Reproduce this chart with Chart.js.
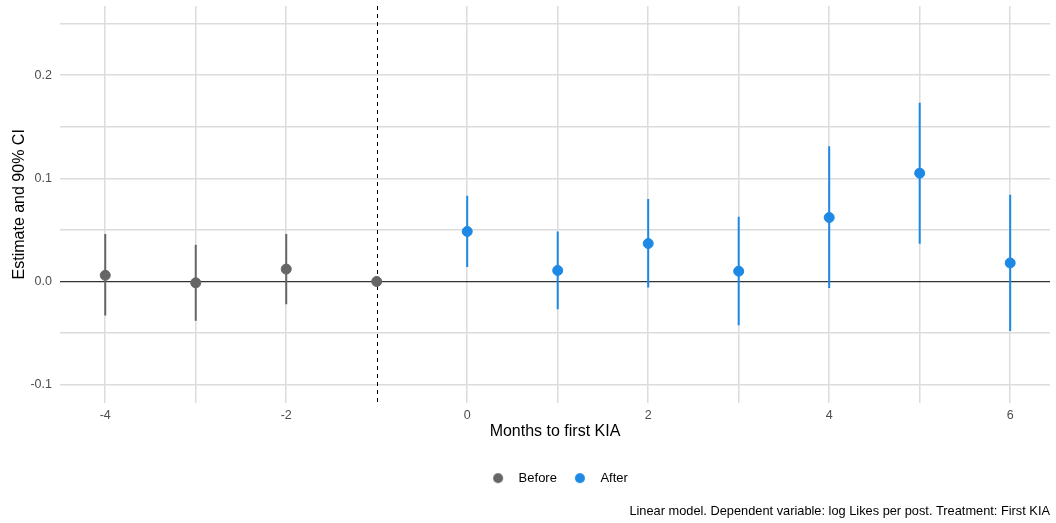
<!DOCTYPE html>
<html><head><meta charset="utf-8">
<script src="https://cdn.jsdelivr.net/npm/chart.js@4.4.1/dist/chart.umd.min.js"></script>
<style>html,body{margin:0;padding:0;background:#fff;}</style>
</head><body>
<canvas id="c" width="1056" height="523"></canvas>
<script>
// ---- data ----
const beforeMonths = [-4, -3, -2, -1];
const beforeEst    = [0.006, -0.0013, 0.012, 0];
const beforeLow    = [-0.033, -0.038, -0.022, null];
const beforeHigh   = [0.046, 0.0356, 0.046, null];

const afterMonths = [0, 1, 2, 3, 4, 5, 6];
const afterEst    = [0.0485, 0.0107, 0.0368, 0.010, 0.062, 0.105, 0.018];
const afterLow    = [0.014, -0.027, -0.0058, -0.0423, -0.0064, 0.0365, -0.048];
const afterHigh   = [0.083, 0.0485, 0.080, 0.0627, 0.131, 0.1732, 0.084];

const xTicks      = [-4, -3, -2, -1, 0, 1, 2, 3, 4, 5, 6];
const xTickLabels = ['-4', '', '-2', '', '0', '', '2', '', '4', '', '6'];
const yTicks      = [-0.1, -0.05, 0, 0.05, 0.1, 0.15, 0.2, 0.25];
const yTickLabels = ['-0.1', '', '0.0', '', '0.1', '', '0.2', ''];
const treatmentLine = -1;
const seriesNames = ['Before', 'After'];
const captionText = 'Linear model. Dependent variable: log Likes per post. Treatment: First KIA';

// ---- styling ----
const GRAY = '#666666';
const BLUE = '#1E88E5';
const GRID = '#dcdcdc';

Chart.defaults.font.family = "'Liberation Sans', Arial, Helvetica, sans-serif";

function pts(xs, ys) { return xs.map((x, i) => ({x: x, y: ys[i]})); }
function ciData(xs, lo, hi) {
  const out = [];
  xs.forEach((x, i) => {
    if (lo[i] == null || hi[i] == null) return;
    out.push({x: x, y: lo[i]}, {x: x, y: hi[i]}, {x: x, y: null});
  });
  return out;
}
function legendDot(color) {
  const c = document.createElement('canvas');
  c.width = 30; c.height = 12;
  const g = c.getContext('2d');
  g.fillStyle = color;
  g.beginPath(); g.arc(16, 6, 5, 0, Math.PI * 2); g.fill();
  return c;
}

const vlinePlugin = {
  id: 'vline',
  beforeDatasetsDraw(chart) {
    const {ctx, chartArea, scales} = chart;
    const x = Math.round(scales.x.getPixelForValue(treatmentLine)) + 0.5;
    ctx.save();
    ctx.strokeStyle = '#000';
    ctx.lineWidth = 1;
    ctx.setLineDash([4, 4]);
    ctx.beginPath();
    ctx.moveTo(x, chartArea.top);
    ctx.lineTo(x, chartArea.bottom);
    ctx.stroke();
    ctx.restore();
  }
};

new Chart(document.getElementById('c'), {
  type: 'scatter',
  data: {
    datasets: [
      {label: seriesNames[0], data: pts(beforeMonths, beforeEst), backgroundColor: GRAY, borderColor: GRAY, pointRadius: 5, borderWidth: 1, pointHoverRadius: 5},
      {label: seriesNames[1], data: pts(afterMonths, afterEst), backgroundColor: BLUE, borderColor: BLUE, pointRadius: 5, borderWidth: 1, pointHoverRadius: 5},
      {label: 'ci-before', data: ciData(beforeMonths, beforeLow, beforeHigh), showLine: true, spanGaps: false, borderColor: GRAY, borderWidth: 2, pointRadius: 0},
      {label: 'ci-after', data: ciData(afterMonths, afterLow, afterHigh), showLine: true, spanGaps: false, borderColor: BLUE, borderWidth: 2, pointRadius: 0}
    ]
  },
  options: {
    responsive: false,
    animation: false,
    devicePixelRatio: 1,
    layout: {padding: {top: 6, right: 6, left: 0, bottom: 0}},
    scales: {
      x: {
        type: 'linear', min: -4.5, max: 6.44,
        afterBuildTicks: s => { s.ticks = xTicks.map(v => ({value: v})); },
        afterFit: s => { s.height = 62; s.paddingLeft = 0; s.paddingRight = 0; },
        ticks: {autoSkip: false, maxRotation: 0, padding: 5, color: '#4d4d4d', font: {size: 12.5},
                callback: (v, i) => xTickLabels[i]},
        grid: {drawTicks: false, lineWidth: 1.5,
               color: c => (c.tick && c.tick.value === treatmentLine) ? 'rgba(0,0,0,0)' : GRID},
        border: {display: false},
        title: {display: true, text: 'Months to first KIA', color: '#000', font: {size: 16}, padding: {top: 4, bottom: 23}}
      },
      y: {
        type: 'linear', min: -0.1174, max: 0.267,
        afterBuildTicks: s => { s.ticks = yTicks.map(v => ({value: v})); },
        afterFit: s => { s.width = 60; s.paddingTop = 0; s.paddingBottom = 0; },
        ticks: {autoSkip: false, padding: 8, color: '#4d4d4d', font: {size: 12.5},
                callback: (v, i) => yTickLabels[i]},
        grid: {drawTicks: false,
               lineWidth: c => (c.tick && Math.abs(c.tick.value) < 1e-9) ? 1.2 : 1.5,
               color: c => (c.tick && Math.abs(c.tick.value) < 1e-9) ? '#333333' : GRID},
        border: {display: false},
        title: {display: true, text: 'Estimate and 90% CI', color: '#000', font: {size: 16}, padding: {top: 9.5, bottom: 0}}
      }
    },
    plugins: {
      tooltip: {enabled: false},
      legend: {
        position: 'bottom', fullSize: false,
        labels: {
          usePointStyle: true, pointStyleWidth: 30, boxHeight: 12, padding: 7,
          color: '#1a1a1a', font: {size: 13},
          generateLabels: () => [
            {text: seriesNames[0], pointStyle: legendDot(GRAY), fillStyle: GRAY, strokeStyle: GRAY, lineWidth: 0, hidden: false, datasetIndex: 0},
            {text: seriesNames[1], pointStyle: legendDot(BLUE), fillStyle: BLUE, strokeStyle: BLUE, lineWidth: 0, hidden: false, datasetIndex: 1}
          ]
        }
      },
      subtitle: {
        display: true, position: 'bottom', align: 'end', fullSize: false,
        text: captionText, color: '#000', font: {size: 12.8, weight: 'normal'},
        padding: {top: 9, bottom: 4}
      }
    }
  },
  plugins: [vlinePlugin]
});
</script>
</body></html>
